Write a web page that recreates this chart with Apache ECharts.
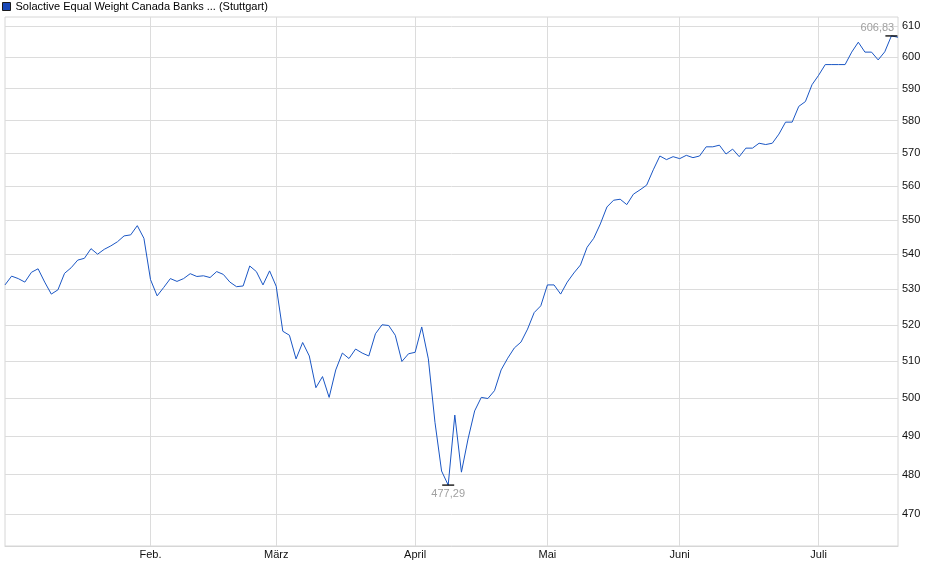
<!DOCTYPE html>
<html>
<head>
<meta charset="utf-8">
<script src="https://cdn.jsdelivr.net/npm/echarts@6/dist/echarts.min.js"></script>
<style>
html,body{margin:0;padding:0;background:#fff;}
#chart{width:940px;height:579px;}
</style>
</head>
<body>
<div id="chart"></div>
<script>
const seriesName = 'Solactive Equal Weight Canada Banks ... (Stuttgart)';

// Trading days (2025)
const janDates = ['01-02','01-03','01-06','01-07','01-08','01-09','01-10','01-13','01-14','01-15','01-16','01-17','01-20','01-21','01-22','01-23','01-24','01-27','01-28','01-29','01-30','01-31'];
const febDates = ['02-03','02-04','02-05','02-06','02-07','02-10','02-11','02-12','02-13','02-14','02-18','02-19','02-20','02-21','02-24','02-25','02-26','02-27','02-28'];
const marDates = ['03-03','03-04','03-05','03-06','03-07','03-10','03-11','03-12','03-13','03-14','03-17','03-18','03-19','03-20','03-21','03-24','03-25','03-26','03-27','03-28','03-31'];
const aprDates = ['04-01','04-02','04-03','04-04','04-07','04-08','04-09','04-10','04-11','04-14','04-15','04-16','04-17','04-22','04-23','04-24','04-25','04-28','04-29','04-30'];
const mayDates = ['05-02','05-05','05-06','05-07','05-08','05-09','05-12','05-13','05-14','05-15','05-16','05-20','05-21','05-22','05-23','05-26','05-27','05-28','05-29','05-30'];
const junDates = ['06-02','06-03','06-04','06-05','06-06','06-09','06-10','06-11','06-12','06-13','06-16','06-17','06-18','06-19','06-20','06-23','06-24','06-25','06-26','06-27','06-30'];
const julDates = ['07-01','07-02','07-03','07-04','07-07','07-08','07-09','07-10','07-11','07-14','07-15','07-16','07-17'];

// Closing values per month
const janValues = [531.2,533.7,533.0,532.0,534.8,535.8,532.0,528.6,529.8,534.5,536.1,538.3,538.8,541.6,540.0,541.4,542.4,543.6,545.3,545.6,548.3,544.6];
const febValues = [532.7,528.1,530.5,533.0,532.2,533.0,534.4,533.6,533.8,533.3,535.0,534.2,532.0,530.7,530.9,536.6,535.0,531.2,535.2];
const marValues = [530.8,518.2,517.1,510.6,515.1,511.4,502.8,505.8,500.2,507.6,512.2,510.7,513.3,512.2,511.4,517.5,520.0,519.8,517.1,509.9,512.0];
const aprValues = [512.4,519.4,510.6,493.6,480.9,477.29,495.5,480.6,489.2,496.6,500.2,499.9,502.0,507.6,510.8,513.6,515.2,518.8,523.4,525.3];
const mayValues = [531.2,531.2,528.6,532.0,534.6,536.9,542.0,544.6,548.8,553.8,555.8,556.1,554.5,557.6,558.9,560.3,564.9,569.1,568.0,568.9];
const junValues = [568.3,569.3,568.6,569.1,571.9,571.9,572.4,569.7,571.2,568.9,571.5,571.5,573.0,572.6,573.0,575.8,579.5,579.5,584.4,585.9,591.2];
const julValues = [594.2,597.6,597.6,597.6,597.6,601.6,604.8,601.6,601.6,599.1,601.7,606.83,606.4];

const yTicks = [470,480,490,500,510,520,530,540,550,560,570,580,590,600,610];
const monthLabels = {'01':'Jan.','02':'Feb.','03':'März','04':'April','05':'Mai','06':'Juni','07':'Juli'};

const dates = [].concat(janDates,febDates,marDates,aprDates,mayDates,junDates,julDates).map(d => '2025-' + d);
const values = [].concat(janValues,febValues,marValues,aprValues,mayValues,junValues,julValues);

function isMonthStart(i) {
  return i > 0 && dates[i].slice(5,7) !== dates[i-1].slice(5,7);
}
function deNum(v) { return v.toFixed(2).replace('.', ','); }

const FONT = "'Liberation Sans', Arial, sans-serif";
const chart = echarts.init(document.getElementById('chart'), null, {renderer: 'canvas'});
chart.setOption({
  animation: false,
  textStyle: {fontFamily: FONT},
  legend: {
    data: [{name: seriesName, icon: 'rect'}],
    left: 2, top: 1,
    padding: 0,
    itemWidth: 8, itemHeight: 8,
    itemStyle: {color: '#1848b8', borderColor: '#1a1a1a', borderWidth: 1},
    textStyle: {fontFamily: FONT, fontSize: 11, color: '#000', padding: [1, 0, 0, 0]},
    selectedMode: false
  },
  grid: {
    left: 5, right: 42, top: 17, bottom: 33,
    show: true, borderColor: '#d6d6d6', borderWidth: 1
  },
  xAxis: {
    type: 'category',
    data: dates,
    boundaryGap: false,
    axisLine: {show: true, lineStyle: {color: '#d6d6d6', width: 1}},
    axisTick: {show: false},
    axisLabel: {
      interval: (i) => isMonthStart(i),
      formatter: (v) => monthLabels[v.slice(5,7)],
      color: '#111', fontSize: 11, fontFamily: FONT, margin: 3
    },
    splitLine: {
      show: true,
      interval: (i) => isMonthStart(i),
      lineStyle: {color: '#dcdcdc', width: 1}
    }
  },
  yAxis: {
    type: 'log',
    logBase: 10,
    position: 'right',
    min: 462, max: 613,
    axisLine: {show: false},
    axisTick: {show: false, customValues: yTicks},
    axisLabel: {
      customValues: yTicks,
      formatter: (v) => String(Math.round(v)),
      color: '#111', fontSize: 11, fontFamily: FONT, margin: 4
    },
    splitLine: {show: true, lineStyle: {color: '#dcdcdc', width: 1}}
  },
  series: [{
    name: seriesName,
    type: 'line',
    data: values,
    showSymbol: false,
    symbol: 'none',
    color: '#1848b8',
    lineStyle: {color: '#1a56c4', width: 1},
    markPoint: {
      symbol: 'rect',
      symbolSize: [12, 1.3],
      itemStyle: {color: '#000'},
      label: {
        show: true,
        formatter: (p) => deNum(p.value),
        color: '#a0a0a0', fontSize: 11, fontFamily: FONT
      },
      data: [
        {type: 'min', label: {position: 'bottom', distance: 3}},
        {type: 'max', label: {position: 'top', distance: 2, offset: [-14, 0]}}
      ]
    }
  }]
});
</script>
</body>
</html>
